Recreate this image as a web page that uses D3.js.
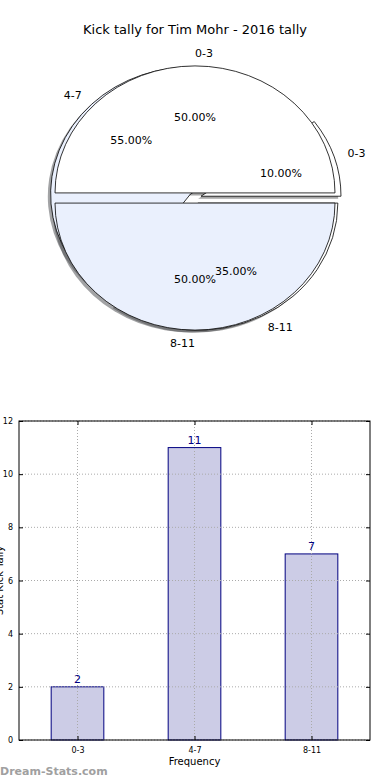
<!DOCTYPE html>
<html>
<head>
<meta charset="utf-8">
<script src="https://cdn.jsdelivr.net/npm/d3@7"></script>
<style>
  body { margin: 0; background: #fff; }
  svg { display: block; font-family: "DejaVu Sans", sans-serif; }
</style>
</head>
<body>
<div id="chart"></div>
<script>
// data
let title = 'Kick tally for Tim Mohr - 2016 tally';
let categories = ['0-3', '4-7', '8-11'];
let counts = [2, 11, 7];
// second (overlaid) pie on the same axes
let halfLabels = ['0-3', '8-11'];
let halfValues = [1, 1];
let yTicks = [0, 2, 4, 6, 8, 10, 12];

let svgWidth = 390;
let svgHeight = 780;

let svg = d3.select('#chart')
    .append('svg')
    .attr('width', svgWidth)
    .attr('height', svgHeight);

svg.append('text')
    .attr('x', 195)
    .attr('y', 34)
    .attr('text-anchor', 'middle')
    .attr('font-size', 13)
    .text(title);

// ---- pie section ----
let cx = 195, cy = 198, rx = 140, ry = 127;
let pieColors = ['#ffffff', '#eaf0fd', '#ffffff'];

// matplotlib-ish: start at 3 o'clock, go counter clockwise
let pie = d3.pie().sort(null)
    .startAngle(Math.PI / 2)
    .endAngle(Math.PI / 2 - 2 * Math.PI);
let unitArc = d3.arc().innerRadius(0).outerRadius(1);

function layoutPie(values, labels, explode) {
    let total = d3.sum(values);
    return pie(values).map((d, i) => {
        let mid = (d.startAngle + d.endAngle) / 2;
        let theta = Math.PI / 2 - mid;
        let ox = explode * rx * Math.cos(theta);
        let oy = -explode * ry * Math.sin(theta);
        return {
            arc: d, theta: theta, ox: ox, oy: oy,
            label: labels[i], color: pieColors[i],
            pct: (100 * values[i] / total).toFixed(2) + '%'
        };
    });
}

let pieB = layoutPie(counts, categories, 0.045);
let pieA = layoutPie(halfValues, halfLabels, 0.04);

function shade(c) {
    let col = d3.color(c);
    return d3.rgb(col.r * 0.3, col.g * 0.3, col.b * 0.3).toString();
}

let pieGroup = svg.append('g');

// shadows sit under every wedge
[pieB, pieA].forEach(slices => {
    pieGroup.selectAll(null)
        .data(slices)
        .enter()
        .append('path')
        .attr('d', d => unitArc(d.arc))
        .attr('transform', d => `translate(${cx + d.ox - 2.8}, ${cy + d.oy + 2.5}) scale(${rx}, ${ry})`)
        .attr('fill', d => shade(d.color))
        .attr('fill-opacity', 0.5);
});

[pieB, pieA].forEach(slices => {
    pieGroup.selectAll(null)
        .data(slices)
        .enter()
        .append('path')
        .attr('d', d => unitArc(d.arc))
        .attr('transform', d => `translate(${cx + d.ox}, ${cy + d.oy}) scale(${rx}, ${ry})`)
        .attr('fill', d => d.color)
        .attr('stroke', '#000')
        .attr('stroke-width', 0.8)
        .attr('vector-effect', 'non-scaling-stroke');
});

// labels on top
[pieB, pieA].forEach(slices => {
    pieGroup.selectAll(null)
        .data(slices)
        .enter()
        .append('text')
        .attr('x', d => cx + d.ox + 1.1 * rx * Math.cos(d.theta))
        .attr('y', d => cy + d.oy - 1.1 * ry * Math.sin(d.theta))
        .attr('dy', '0.35em')
        .attr('text-anchor', d => Math.cos(d.theta) > 0 ? 'start' : 'end')
        .attr('font-size', 11)
        .text(d => d.label);
    pieGroup.selectAll(null)
        .data(slices)
        .enter()
        .append('text')
        .attr('x', d => cx + d.ox + 0.6 * rx * Math.cos(d.theta))
        .attr('y', d => cy + d.oy - 0.6 * ry * Math.sin(d.theta))
        .attr('dy', '0.35em')
        .attr('text-anchor', 'middle')
        .attr('font-size', 11)
        .text(d => d.pct);
});

// ---- bar section ----
let margin = { top: 421, left: 19, right: 20, bottom: 40 };
let width = svgWidth - margin.left - margin.right;
let height = svgHeight - margin.top - margin.bottom;

let barGroup = svg.append('g')
    .attr('transform', `translate(${margin.left}, ${margin.top})`);

let xScale = d3.scaleLinear().domain([-0.5, categories.length - 0.5]).range([0, width]);
let yScale = d3.scaleLinear().domain([0, 12]).range([height, 0]);
let barW = xScale(0.45) - xScale(0);

// bars
barGroup.selectAll('.bar')
    .data(counts)
    .enter()
    .append('rect')
    .classed('bar', true)
    .attr('x', (d, i) => xScale(i) - barW / 2)
    .attr('y', d => yScale(d))
    .attr('width', barW)
    .attr('height', d => height - yScale(d))
    .attr('fill', '#cccce6')
    .attr('stroke', '#000080')
    .attr('stroke-width', 1);

// grid lines over the bars (matplotlib puts them above)
barGroup.append('g')
    .selectAll('line')
    .data(yTicks)
    .enter()
    .append('line')
    .attr('x1', 0).attr('x2', width)
    .attr('y1', d => yScale(d)).attr('y2', d => yScale(d))
    .attr('stroke', '#aaa').attr('stroke-dasharray', '1,2');
barGroup.append('g')
    .selectAll('line')
    .data(categories)
    .enter()
    .append('line')
    .attr('x1', (d, i) => xScale(i)).attr('x2', (d, i) => xScale(i))
    .attr('y1', 0).attr('y2', height)
    .attr('stroke', '#aaa').attr('stroke-dasharray', '1,2');

// value labels
barGroup.selectAll('.val')
    .data(counts)
    .enter()
    .append('text')
    .attr('x', (d, i) => xScale(i))
    .attr('y', d => yScale(d) - 4)
    .attr('text-anchor', 'middle')
    .attr('font-size', 11)
    .attr('fill', '#000080')
    .text(d => d);

// axes, ticks pointing inward
let leftAxis = d3.axisLeft(yScale).tickValues(yTicks).tickSize(-4).tickPadding(6);
let rightAxis = d3.axisRight(yScale).tickValues(yTicks).tickSize(-4).tickFormat('');
let bottomAxis = d3.axisBottom(xScale).tickValues(d3.range(categories.length))
    .tickFormat(i => categories[i]).tickSize(-4).tickPadding(7);
let topAxis = d3.axisTop(xScale).tickValues(d3.range(categories.length)).tickSize(-4).tickFormat('');

let axes = {};
axes.Y = barGroup.append('g').call(leftAxis);
axes.R = barGroup.append('g').attr('transform', `translate(${width}, 0)`).call(rightAxis);
axes.X = barGroup.append('g').attr('transform', `translate(0, ${height})`).call(bottomAxis);
axes.T = barGroup.append('g').call(topAxis);
Object.values(axes).forEach(a => {
    a.select('.domain').remove();
    a.selectAll('text').attr('font-size', 8).attr('font-family', 'DejaVu Sans').attr('fill', '#000');
});

barGroup.append('rect')
    .attr('width', width).attr('height', height)
    .attr('fill', 'none').attr('stroke', '#000').attr('stroke-width', 1);

barGroup.append('text')
    .attr('x', width / 2)
    .attr('y', height + 25)
    .attr('text-anchor', 'middle')
    .attr('font-size', 10)
    .text('Frequency');

// y label mostly falls off the left edge, as in the original
barGroup.append('text')
    .attr('transform', `translate(-16.5, ${height / 2}) rotate(-90)`)
    .attr('text-anchor', 'middle')
    .attr('font-size', 10)
    .text('Stat Kick Tally');

svg.append('text')
    .attr('x', 0)
    .attr('y', 775)
    .attr('font-size', 11)
    .attr('font-weight', 'bold')
    .attr('fill', '#a0a0a0')
    .text('Dream-Stats.com');
</script>
</body>
</html>
